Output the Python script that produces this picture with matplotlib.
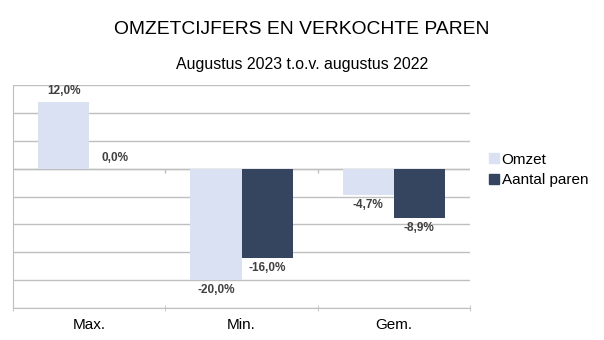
import numpy as np
import matplotlib
matplotlib.use("Agg")
import matplotlib.pyplot as plt
from matplotlib.patches import Patch

plt.rcParams["font.family"] = ["Liberation Sans", "DejaVu Sans"]

categorieen = ["Max.", "Min.", "Gem."]
omzet = [12.0, -20.0, -4.7]
aantal_paren = [0.0, -16.0, -8.9]
reeksen = ["Omzet", "Aantal paren"]

titel = "OMZETCIJFERS EN VERKOCHTE PAREN"
ondertitel = "Augustus 2023 t.o.v. augustus 2022"

kleur_omzet = "#D9E1F2"
kleur_paren = "#36455F"
kleur_raster = "#BFBFBF"

W, H = 604, 340
fig = plt.figure(figsize=(W / 100, H / 100), dpi=100)
ax = fig.add_axes([13 / W, (H - 308) / H, 457 / W, 223 / H])

x = np.arange(len(categorieen))
breedte = 0.335

balken1 = ax.bar(x - breedte / 2, omzet, breedte, color=kleur_omzet, zorder=3)
balken2 = ax.bar(x + breedte / 2, aantal_paren, breedte, color=kleur_paren, zorder=3)

ax.set_xlim(-0.5, len(categorieen) - 0.5)
ax.set_ylim(-25, 15)
ax.set_yticks(np.arange(-25, 16, 5))
ax.yaxis.grid(True, color=kleur_raster, linewidth=1)
ax.set_axisbelow(True)
ax.tick_params(axis="y", left=False, labelleft=False)

ax.set_xticks(x)
ax.set_xticklabels(categorieen, fontsize=11)
ax.tick_params(axis="x", which="major", length=0, pad=7)
ax.set_xticks(np.arange(-0.5, len(categorieen), 1), minor=True)
ax.tick_params(axis="x", which="minor", length=5, direction="inout", color=kleur_raster)

for kant in ["top", "right"]:
    ax.spines[kant].set_visible(False)
for kant in ["left", "bottom"]:
    ax.spines[kant].set_color(kleur_raster)

# as-lijn op nul met kleine streepjes tussen de categorieen
ax.axhline(0, color=kleur_raster, linewidth=1, zorder=2)
ax.vlines(np.arange(0.5, len(categorieen) - 0.5, 1), -0.8, 0, color=kleur_raster, linewidth=1, zorder=2)

for balken, waarden in [(balken1, omzet), (balken2, aantal_paren)]:
    for b, v in zip(balken, waarden):
        tekst = f"{v:.1f}%".replace(".", ",")
        if v >= 0:
            ax.annotate(tekst, (b.get_x() + b.get_width() / 2, v), xytext=(0, 3.5),
                        textcoords="offset points", ha="center", va="bottom",
                        fontsize=8.5, fontweight="bold", color="#404040")
        else:
            ax.annotate(tekst, (b.get_x() + b.get_width() / 2, v), xytext=(0, -3),
                        textcoords="offset points", ha="center", va="top",
                        fontsize=8.5, fontweight="bold", color="#404040")

fig.text(0.5, 1 - 29 / H, titel, ha="center", va="center", fontsize=13.9)
fig.text(0.5, 1 - 65 / H, ondertitel, ha="center", va="center", fontsize=11.4)

handles = [Patch(color=kleur_omzet), Patch(color=kleur_paren)]
fig.legend(handles, reeksen, loc="center left", bbox_to_anchor=(481 / W, 1 - 170 / H),
           frameon=False, fontsize=11, handlelength=0.65, handleheight=0.65,
           handletextpad=0.2, labelspacing=0.45, borderpad=0)

fig.savefig("out.png", dpi=100)
